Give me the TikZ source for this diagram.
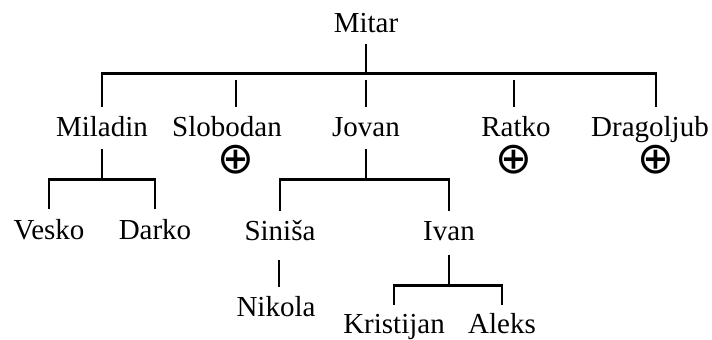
\documentclass[tikz,border=0pt]{standalone}
\usepackage{amsmath}
\usepackage{amssymb}
\usepackage{fontspec}
\setmainfont{Liberation Serif}
\newfontfamily\marksym{DejaVu Sans}
\usepackage{tikz}
\usetikzlibrary{calc}

\begin{document}
\begin{tikzpicture}[
        x=0.5pt, y=-0.5pt,
        line width=1.35pt,
        every node/.style={inner sep=0pt, font=\fontsize{14.5}{17}\selectfont},
        person/.style={anchor=base, text height=10pt, text depth=3pt},
        gone/.style={anchor=center, font=\marksym\fontsize{22}{24}\selectfont}
        ]
        \useasboundingbox (0,0) rectangle (712,339);

        \node[person] (mitar) at (366,32) {Mitar};

        \node[person] (miladin) at (102,136) {Miladin};
        \node[person] (slobodan) at (227,136) {Slobodan};
        \node[person] (jovan) at (366,136) {Jovan};
        \node[person] (ratko) at (516,136) {Ratko};
        \node[person] (dragoljub) at (650,136) {Dragoljub};
        \node[gone] (smark) at (236,160) {⊕};
        \node[gone] (rmark) at (514,160) {⊕};
        \node[gone] (dmark) at (656,160) {⊕};

        \node[person] (vesko) at (49,239) {Vesko};
        \node[person] (darko) at (155,239) {Darko};
        \node[person] (sinisa) at (280,240) {Siniša};
        \node[person] (ivan) at (449,240) {Ivan};

        \node[person] (nikola) at (276,316) {Nikola};
        \node[person] (kristijan) at (394,333) {Kristijan};
        \node[person] (aleks) at (502,333) {Aleks};

        \draw ($(mitar.south)+(0,5)$) -- ++(0,28);
        \draw ($(miladin.north)+(0,-8)$) -- ++(0,-33) -| ($(dmark |- dragoljub.north)+(0,-8)$);
        \draw ($(smark |- slobodan.north)+(0,-8)$) -- ++(0,-27);
        \draw ($(jovan.north)+(0,-8)$) -- ++(0,-27);
        \draw ($(rmark |- ratko.north)+(0,-8)$) -- ++(0,-27);

        \draw ($(miladin.south)+(0,6)$) -- ++(0,30) coordinate (miladinfork);
        \draw ($(vesko.north)+(0,-9)$) |- (miladinfork) -| ($(darko.north)+(0,-9)$);

        \draw ($(jovan.south)+(0,6)$) -- ++(0,30) coordinate (jovanfork);
        \draw ($(sinisa.north)+(0,-8)$) |- (jovanfork) -| ($(ivan.north)+(0,-8)$);

        \draw ($(sinisa.south)+(-1,13)$) -- ($(sinisa.south |- nikola.north)+(-1,-8)$);

        \draw ($(ivan.south)+(0,8)$) -- ++(0,30) coordinate (ivanfork);
        \draw ($(kristijan.north)+(0,-7)$) |- (ivanfork) -| ($(aleks.north)+(0,-7)$);
    \end{tikzpicture}
\end{document}
